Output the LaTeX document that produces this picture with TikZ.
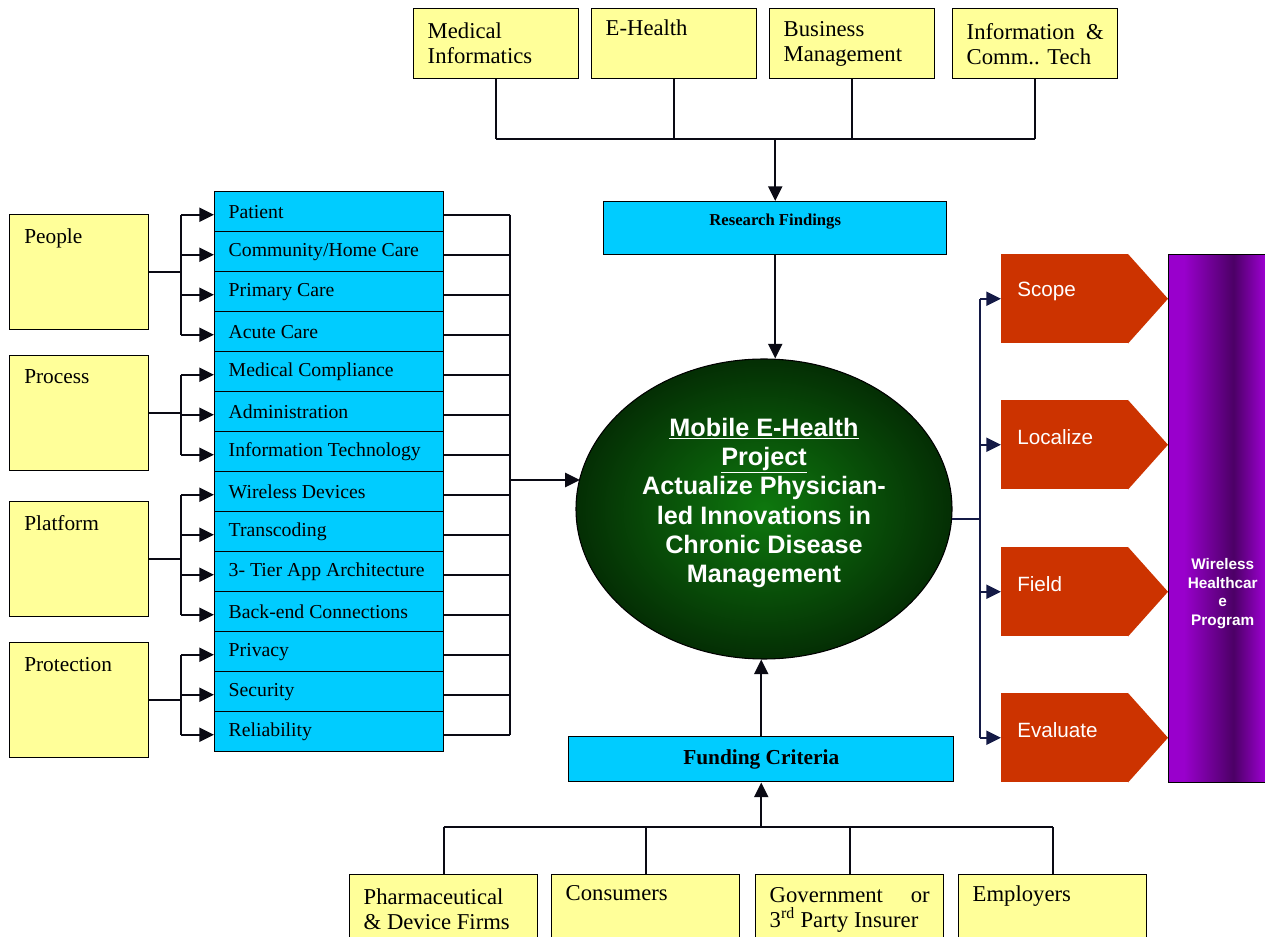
\documentclass[tikz,border=0pt]{standalone}
\usepackage{fontspec}
\setmainfont{Liberation Serif}
\newfontfamily\arialf{Liberation Sans}
\usetikzlibrary{arrows.meta,shapes.geometric}

\definecolor{ybox}{HTML}{FFFF99}
\definecolor{cbox}{HTML}{00CCFF}
\definecolor{obox}{HTML}{CC3300}
\definecolor{pBright}{HTML}{9900CC}
\definecolor{pDark}{HTML}{4C0066}
\definecolor{navy}{HTML}{141A46}
\definecolor{lineblk}{HTML}{0A0A14}
\definecolor{gIn}{RGB}{14,120,14}
\definecolor{gOut}{RGB}{4,46,4}

% purple band: bright at the edges, dark towards the middle-right
\pgfdeclarehorizontalshading{purpband}{100bp}{color(0bp)=(pBright); color(32bp)=(pBright); color(55bp)=(pDark); color(69bp)=(pBright); color(100bp)=(pBright)}

\tikzset{
  conn/.style={line width=1.5pt, draw=lineblk},
  arr/.style={conn, -{Triangle[length=11pt,width=10.5pt]}},
  rconn/.style={line width=1.5pt, draw=navy},
  rarr/.style={rconn, -{Triangle[length=11pt,width=10.5pt]}},
  topbox/.style={draw, line width=1.1pt, fill=ybox, anchor=north west,
    minimum width=123.75pt, minimum height=52.5pt, inner xsep=10.5pt, inner ysep=0pt,
    text width=102.75pt, align=flush left, font=\fontsize{17}{18.75}\selectfont},
  botbox/.style={topbox, minimum width=141pt, text width=120pt},
  grp/.style={draw, line width=1.1pt, fill=ybox, anchor=north west,
    minimum width=104.25pt, minimum height=86.25pt, inner sep=0pt,
    label={[anchor=north west, inner sep=0pt, xshift=11.25pt, yshift=-11pt,
      font=\fontsize{16}{19}\selectfont]north west:#1}},
  rowbox/.style={draw, line width=1.1pt, fill=cbox, anchor=north west,
    minimum width=171.75pt, minimum height=30pt, inner xsep=10.5pt, inner ysep=0pt,
    text width=150.75pt, align=flush left, font=\fontsize{14.8}{17}\selectfont},
  sig/.style={fill=obox, anchor=north west, minimum width=95.25pt, minimum height=66.75pt,
    inner sep=0pt,
    label={[anchor=west, inner sep=0pt, xshift=12pt, yshift=5.4pt, text=white,
      font=\arialf\fontsize{15.5}{18}\selectfont]west:#1}},
}

\begin{document}
\begin{tikzpicture}[x=0.75pt, y=-0.75pt]
\fill[white] (0,0) rectangle (1265,937);
\useasboundingbox (0,0) rectangle (1265,937);

% ---------- top disciplines ----------
\node[topbox] (t1) at (413,8) {Medical\\Informatics};
\node[topbox] (t2) at (591,8) {E-Health\\\strut};
\node[topbox] (t3) at (769,8) {Business\\Management};
\node[topbox] (t4) at (952,8) {Information\hfill\&\\Comm.. Tech};

% ---------- research findings ----------
\node[draw, line width=1.1pt, fill=cbox, anchor=north west, minimum width=257.25pt,
  minimum height=39.75pt, inner sep=0pt,
  label={[anchor=center, inner sep=0pt, yshift=5pt,
    font=\bfseries\fontsize{12.5}{15}\selectfont]center:Research Findings}]
  (rf) at (603,201) {};

\coordinate (tj) at (775,139);
\foreach \n in {t1,t2,t3,t4} \draw[conn] (\n.south) -- (\n.south |- tj);
\draw[conn] (t1.south |- tj) -- (t4.south |- tj);
\draw[arr] (rf.north |- tj) -- (rf.north);

% ---------- central project ----------
\node[ellipse, draw=black, line width=0.8pt, inner color=gIn, outer color=gOut,
  minimum width=282pt, minimum height=225pt, inner sep=0pt,
  label={[anchor=center, inner sep=0pt, yshift=4.5pt, align=center, text=white,
    font=\arialf\bfseries\fontsize{18.9}{22}\selectfont]center:{\underline{Mobile E-Health}\\\underline{Project}\\Actualize Physician-\\led Innovations in\\Chronic Disease\\Management}}]
  (ell) at (764,509) {};

\draw[arr] (rf.south) -- (rf.south |- ell.north);

% ---------- funding ----------
\node[draw, line width=1.1pt, fill=cbox, anchor=north west, minimum width=288.75pt,
  minimum height=33.75pt, inner sep=0pt, font=\bfseries\fontsize{16}{19}\selectfont]
  (fc) at (568,736) {Funding Criteria};
\draw[arr] (fc.north) -- (fc.north |- ell.south);

\node[botbox] (p1) at (349,874) {Pharmaceutical\\\& Device Firms};
\node[botbox] (p2) at (551,874) {Consumers\\\strut};
\node[botbox] (p3) at (755,874) {Government\hfill or\\3\textsuperscript{rd} Party Insurer};
\node[botbox] (p4) at (958,874) {Employers\\\strut};

\coordinate (bj) at (762,827);
\foreach \n in {p1,p2,p3,p4} \draw[conn] (\n.north) -- (\n.north |- bj);
\draw[conn] (p1.north |- bj) -- (p4.north |- bj);
\draw[arr] (fc.south |- bj) -- (fc.south);

% ---------- left: groups and their elements ----------
\node[grp=People]     (gA) at (9,214) {};
\node[grp=Process]    (gB) at (9,355) {};
\node[grp=Platform]   (gC) at (9,501) {};
\node[grp=Protection] (gD) at (9,642) {};

\node[rowbox] (r1)  at (214,191) {Patient};
\node[rowbox] (r2)  at (214,231) {Community/Home Care};
\node[rowbox] (r3)  at (214,271) {Primary Care};
\node[rowbox] (r4)  at (214,311) {Acute Care};
\node[rowbox] (r5)  at (214,351) {Medical Compliance};
\node[rowbox] (r6)  at (214,391) {Administration};
\node[rowbox] (r7)  at (214,431) {Information Technology};
\node[rowbox] (r8)  at (214,471) {Wireless Devices};
\node[rowbox] (r9)  at (214,511) {Transcoding};
\node[rowbox] (r10) at (214,551) {3- Tier App Architecture};
\node[rowbox] (r11) at (214,591) {Back-end Connections};
\node[rowbox] (r12) at (214,631) {Privacy};
\node[rowbox] (r13) at (214,671) {Security};
\node[rowbox] (r14) at (214,711) {Reliability};

\foreach \i in {1,...,14}{
  \coordinate (a\i) at ([yshift=-2.25pt]r\i.west);
  \coordinate (b\i) at ([yshift=-2.25pt]r\i.east);
}

\coordinate (lb) at (181,0);
% group -> element fan-out
\draw[conn] (gA.east) -- (gA.east -| lb);
\draw[conn] (a1 -| lb) -- (a4 -| lb);
\foreach \i in {1,...,4} \draw[arr] (a\i -| lb) -- (a\i);

\draw[conn] (gB.east) -- (gB.east -| lb);
\draw[conn] (a5 -| lb) -- (a7 -| lb);
\foreach \i in {5,...,7} \draw[arr] (a\i -| lb) -- (a\i);

\draw[conn] (gC.east) -- (gC.east -| lb);
\draw[conn] (a8 -| lb) -- (a11 -| lb);
\foreach \i in {8,...,11} \draw[arr] (a\i -| lb) -- (a\i);

\draw[conn] (gD.east) -- (gD.east -| lb);
\draw[conn] (a12 -| lb) -- (a14 -| lb);
\foreach \i in {12,...,14} \draw[arr] (a\i -| lb) -- (a\i);

% elements -> project
\coordinate (mb) at (510,480);
\foreach \i in {1,...,14} \draw[conn] (b\i) -- (b\i -| mb);
\draw[conn] (b1 -| mb) -- (b14 -| mb);
\draw[arr] (mb) -- (mb -| ell.170);

% ---------- right: program stages ----------
\node[draw=black, line width=1.1pt, shading=purpband, anchor=north west,
  minimum width=81pt, minimum height=396pt, inner sep=0pt,
  label={[anchor=center, inner sep=0pt, yshift=-56.25pt, align=center, text=white,
    font=\arialf\bfseries\fontsize{11.5}{13.9}\selectfont]center:{Wireless\\Healthcar\\e\\Program}}]
  (wp) at (1168,254) {};

\node[sig=Scope]    (s1) at (1001,254) {};
\node[sig=Localize] (s2) at (1001,400) {};
\node[sig=Field]    (s3) at (1001,547) {};
\node[sig=Evaluate] (s4) at (1001,693) {};
\foreach \n in {s1,s2,s3,s4}
  \fill[obox] ([xshift=-0.4pt]\n.north east) -- (wp.west |- \n.east) -- ([xshift=-0.4pt]\n.south east) -- cycle;

\coordinate (rb) at (980,518);
\draw[rconn] (ell.-3) -- (ell.-3 -| rb);
\draw[rconn] (rb |- s1.west) -- (rb |- s4.west);
\foreach \n in {s1,s2,s3,s4} \draw[rarr] (rb |- \n.west) -- (\n.west);

\end{tikzpicture}
\end{document}
